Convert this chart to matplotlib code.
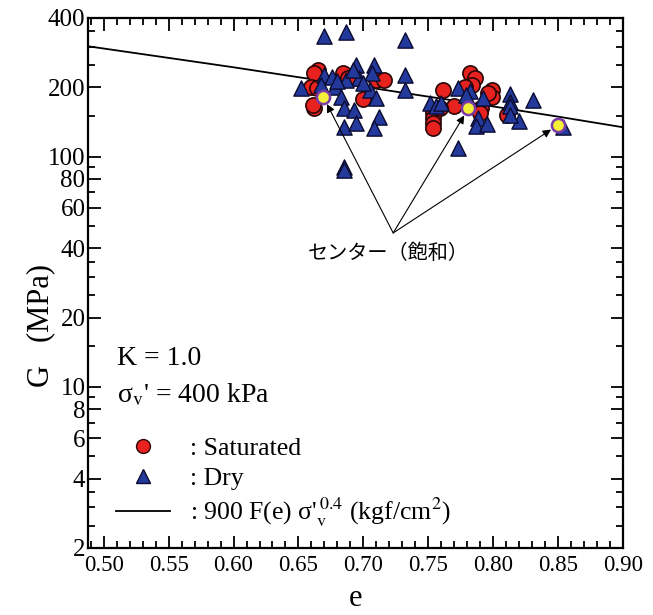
"""G vs void ratio, K = 1.0, sigma_v' = 400 kPa."""

import matplotlib
matplotlib.use("Agg")
import matplotlib.pyplot as plt
from matplotlib.lines import Line2D
from matplotlib.ticker import FixedLocator, NullFormatter

plt.rcParams["font.family"] = ["Liberation Serif", "DejaVu Serif"]
plt.rcParams["mathtext.fontset"] = "stix"

# saturated specimens (red circles)
sat_e = [0.665, 0.662, 0.660, 0.662, 0.661, 0.684, 0.688, 0.710, 0.716, 0.700,
         0.664, 0.782, 0.786, 0.784, 0.761, 0.799, 0.799, 0.770, 0.754, 0.754,
         0.754, 0.754, 0.759, 0.791, 0.790, 0.811, 0.796, 0.778]
sat_G = [238, 230, 201, 162, 168, 230, 219, 215, 215, 178,
         198, 230, 219, 205, 195, 195, 182, 165, 154, 147,
         140, 133, 162, 162, 154, 151, 188, 200]

# dry specimens (blue triangles)
dry_e = [0.652, 0.670, 0.687, 0.732, 0.670, 0.676, 0.694, 0.708, 0.697, 0.687,
         0.678, 0.707, 0.692, 0.705, 0.710, 0.683, 0.685, 0.693, 0.712, 0.685,
         0.694, 0.708, 0.732, 0.732, 0.685, 0.685, 0.667, 0.680, 0.700,
         0.773, 0.782, 0.751, 0.756, 0.792, 0.813, 0.813, 0.813, 0.831, 0.820,
         0.788, 0.787, 0.795, 0.773, 0.854, 0.813, 0.779, 0.760]
dry_G = [198, 332, 348, 321, 226, 222, 250, 250, 219, 215,
         201, 230, 238, 195, 179, 182, 162, 159, 149, 135,
         140, 133, 226, 195, 90, 87, 205, 212, 208,
         198, 192, 171, 165, 179, 186, 173, 165, 176, 142,
         147, 136, 138, 109, 135, 151, 185, 170]

# centre specimens (saturated), highlighted
ctr_e = [0.669, 0.781, 0.850]
ctr_G = [182, 162, 137]

# 900 F(e) sigma_v'^0.4 curve
line_e = [0.488, 0.55, 0.60, 0.65, 0.70, 0.75, 0.80, 0.85, 0.90]
line_G = [301, 268, 244, 221, 201, 182, 165, 149, 134]

fig = plt.figure(figsize=(6.53, 6.15), dpi=100)
ax = fig.add_axes([0.135, 0.109, 0.819, 0.862])

ax.plot(line_e, line_G, color="black", linewidth=1.3, zorder=2)
ax.scatter(sat_e, sat_G, s=120, marker="o", facecolor="#e8231f",
           edgecolor="#2a0606", linewidth=1.2, zorder=3)
ax.scatter(dry_e, dry_G, s=120, marker="^", facecolor="#24399c",
           edgecolor="#0b0b30", linewidth=1.0, zorder=4)
ax.scatter(ctr_e, ctr_G, s=90, marker="o", facecolor="#f4f03a",
           edgecolor="#7b3aa6", linewidth=1.8, zorder=5)

for e, g in zip(ctr_e, ctr_G):
    ax.annotate("", xy=(e, g), xytext=(0.723, 46.6),
                arrowprops=dict(arrowstyle="-|>", color="black", lw=0.8,
                                mutation_scale=12, shrinkA=0, shrinkB=6),
                zorder=6)
ax.text(0.719, 38, "センター（飽和）", ha="center", va="center", fontsize=14.5,
        family=["Noto Sans CJK JP", "DejaVu Sans"])

ax.set_yscale("log")
ax.set_xlim(0.488, 0.90)
ax.set_ylim(2, 400)

major_y = [2, 4, 6, 8, 10, 20, 40, 60, 80, 100, 200, 400]
minor_y = [d * m for d in (1, 10, 100) for m in (1.5, 2.5, 3, 3.5, 5, 7, 9)]
minor_y = [v for v in minor_y if 2 <= v <= 400]
ax.yaxis.set_major_locator(FixedLocator(major_y))
ax.yaxis.set_minor_locator(FixedLocator(minor_y))
ax.set_yticklabels([str(v) for v in major_y])
ax.yaxis.set_minor_formatter(NullFormatter())

x_major = [0.50, 0.55, 0.60, 0.65, 0.70, 0.75, 0.80, 0.85, 0.90]
ax.set_xticks(x_major)
ax.set_xticklabels([f"{v:.2f}" for v in x_major])
ax.set_xticks([0.49 + 0.01 * i for i in range(41)], minor=True)

ax.tick_params(which="both", direction="in", top=True, right=True, width=1.3)
ax.tick_params(axis="x", labelsize=16.5, pad=5)
ax.tick_params(axis="y", labelsize=18, pad=2)
ax.tick_params(which="major", length=9)
ax.tick_params(which="minor", length=5)
for sp in ax.spines.values():
    sp.set_linewidth(1.6)

ax.set_xlabel("e", fontsize=22, labelpad=6)
ax.set_ylabel("G   (MPa)", fontsize=22)
ax.yaxis.set_label_coords(-0.062, 0.42)

ax.text(0.054, 0.358, "K = 1.0", transform=ax.transAxes, fontsize=20,
        va="center")
ax.text(0.054, 0.289, "σ$_\\mathrm{v}$' = 400 kPa", transform=ax.transAxes,
        fontsize=20, va="center")

handles = [
    Line2D([], [], linestyle="none", marker="o", markersize=10,
           markerfacecolor="#e8231f", markeredgecolor="#2a0606"),
    Line2D([], [], linestyle="none", marker="^", markersize=10,
           markerfacecolor="#24399c", markeredgecolor="#0b0b30"),
    Line2D([], [], color="black", linewidth=1.3),
]
labels = [": Saturated", ": Dry",
          ": 900 F(e) σ'$_\\mathrm{v}^{\\,0.4}$ (kgf/cm$^2$)"]
ax.legend(handles, labels, loc="lower left", bbox_to_anchor=(0.052, 0.035),
          frameon=False, fontsize=18.5, handlelength=2.1, handletextpad=0.8,
          labelspacing=0.25, borderpad=0, borderaxespad=0)

fig.savefig("out.png", dpi=100)
